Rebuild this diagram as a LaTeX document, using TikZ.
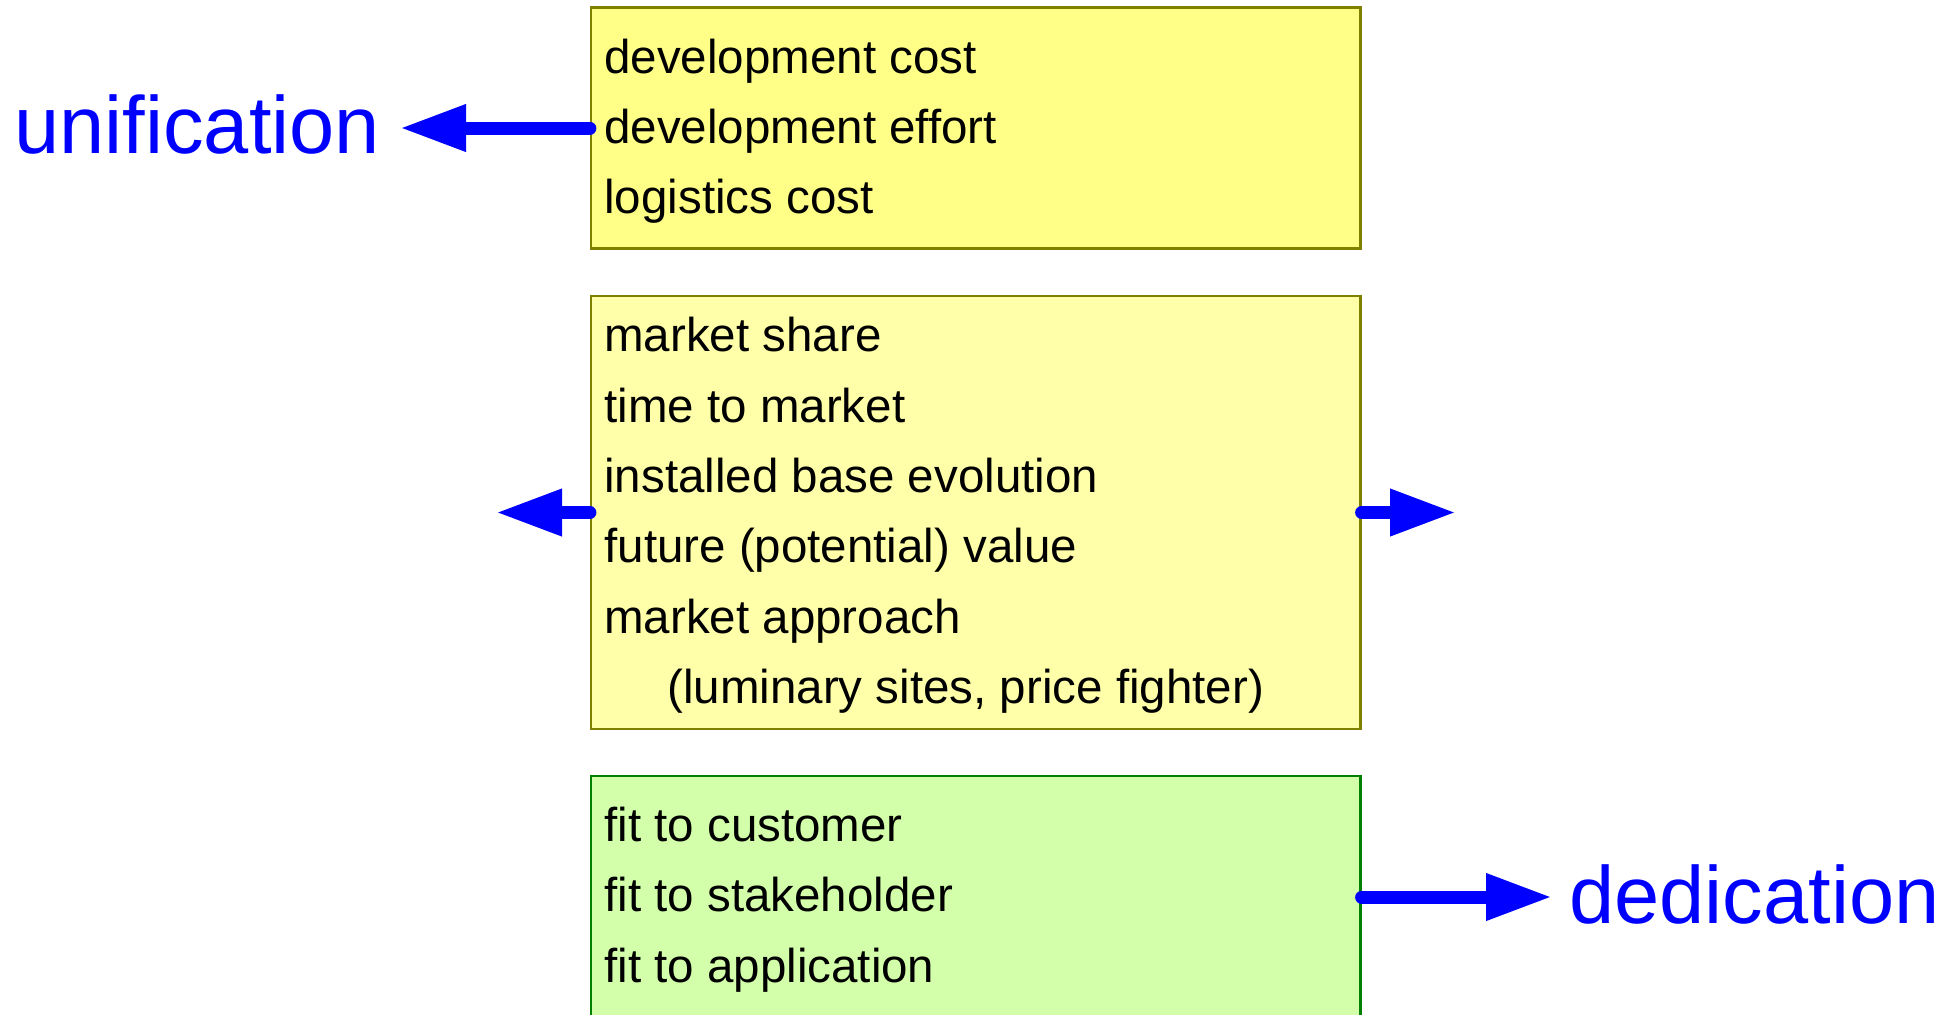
\documentclass[tikz,border=0pt]{standalone}
\usepackage{fontspec}
\setmainfont{Liberation Sans}
\usetikzlibrary{arrows.meta}
\definecolor{fillA}{RGB}{255,255,136}
\definecolor{fillB}{RGB}{255,255,170}
\definecolor{fillC}{RGB}{212,255,170}
\definecolor{edgeY}{RGB}{128,128,0}
\definecolor{edgeG}{RGB}{0,128,0}
\begin{document}
\begin{tikzpicture}[x=0.5pt,y=-0.5pt,
  box/.style={draw=edgeY, line width=1.1pt, inner sep=0pt, minimum width=384.75pt},
  item/.style={anchor=base west, inner sep=0pt, font=\fontsize{23.75}{28}\selectfont},
  big/.style={anchor=base west, inner sep=0pt, text=blue, font=\fontsize{40.6}{48}\selectfont},
  conn/.style={blue, line width=6.5pt, line cap=round, -{Triangle[length=33pt,width=22pt]}}]
\fill[white] (0,0) rectangle (1958,1014);
\useasboundingbox (0,0) rectangle (1958,1014);
\begin{scope}
\clip (0,0) rectangle (1958,1014);
% boxes
\node[box, fill=fillA, minimum height=120.5pt] (b1) at (975.75,128) {};
\node[box, fill=fillB, minimum height=216.5pt] (b2) at (975.75,512.5) {};
\node[box, fill=fillC, draw=edgeG, minimum height=121pt] (b3) at (975.75,897) {};
\end{scope}
% box 1 text
\node[item] (t11) at (604,73.5) {development cost};
\node[item] (t12) at (604,143.5) {development effort};
\node[item] (t13) at (604,213.5) {logistics cost};
% box 2 text
\node[item] (t21) at (604,351.5) {market share};
\node[item] (t22) at (604,422) {time to market};
\node[item] (t23) at (604,492.3) {installed base evolution};
\node[item] (t24) at (604,562.5) {future (potential) value};
\node[item] (t25) at (604,633) {market approach};
\node[item] (t26) at (667,703.3) {(luminary sites, price fighter)};
% box 3 text
\node[item] (t31) at (604,841.5) {fit to customer};
\node[item] (t32) at (604,911.5) {fit to stakeholder};
\node[item] (t33) at (604,982) {fit to application};
% labels
\node[big] (uni) at (14,153.5) {unification};
\node[big] (ded) at (1569,923) {dedication};
% arrow tips
\coordinate (uniTip) at (400,128);
\coordinate (midL) at (496,512.5);
\coordinate (midR) at (1456,512.5);
\coordinate (dedTip) at (1552,897);
% connectors
\draw[conn] (b1.west) -- (uniTip);
\draw[conn] (b2.west) -- (midL);
\draw[conn] (b2.east) -- (midR);
\draw[conn] (b3.east) -- (dedTip);
\end{tikzpicture}
\end{document}
